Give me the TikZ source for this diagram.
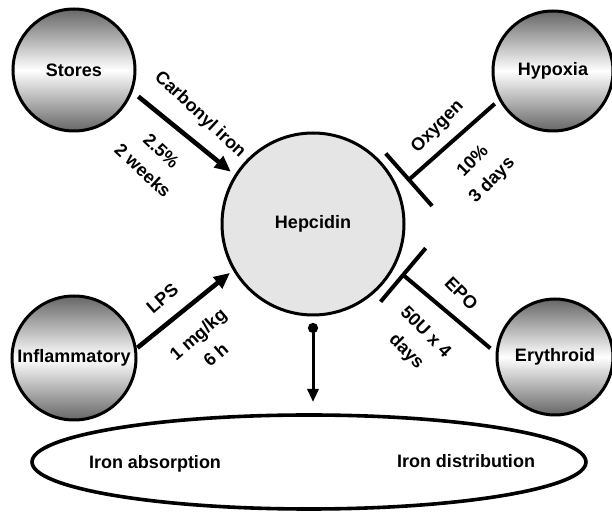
\documentclass[tikz,border=0pt]{standalone}
\usepackage{fontspec}
\setmainfont{Liberation Sans}
\usetikzlibrary{shapes.geometric, positioning, arrows.meta}

\begin{document}
\begin{tikzpicture}[x=0.5pt, y=-0.5pt,
    font=\fontsize{9}{13.5}\selectfont\bfseries,
    source/.style={circle, draw, line width=1.5pt, minimum size=#1, inner sep=0pt, outer sep=0pt,
        top color=black!60, bottom color=black!60, middle color=white},
    act/.style={-{Triangle[length=8pt, width=7pt]}, line width=2.3pt},
    inhib/.style={{Bar[width=35pt]}-, line width=2pt},
    lbl/.style={sloped, inner sep=1pt, align=center}]

    \useasboundingbox (0,0) rectangle (612,513);

    % Hepcidin in the middle
    \node[circle, draw, line width=1.5pt, fill=black!10, minimum size=91pt, inner sep=0pt, outer sep=0pt] (hep) at (313,224) {Hepcidin};

    % Regulators
    \node[source=61pt] (stores) at (74,70) {Stores};
    \node[source=60pt] (hypoxia) at (553,71) {Hypoxia};
    \node[source=62pt] (inflam) at (74,358) {Inflammatory};
    \node[source=58pt] (erythroid) at (555,357) {Erythroid};

    % Iron targets
    \node[ellipse, draw, line width=1.8pt, minimum width=277pt, minimum height=47pt, inner sep=0pt, outer sep=0pt] (iron) at (309,462) {};
    \node (absorp) at (155,464) {Iron absorption};
    \node (distrib) at (466,461) {Iron distribution};

    % Arrows into hepcidin
    \draw[act, shorten <=4.5pt, shorten >=3.2pt] (stores.-20.7) -- (hep.148.4)
        node[lbl, rotate=-4, midway, above=6pt] {Carbonyl iron}
        node[lbl, rotate=-4, pos=.46, below=8.5pt] {2.5\%\\2 weeks};
    \draw[act, shorten <=1.3pt, shorten >=2.7pt] (inflam.8) -- (hep.210.6)
        node[lbl, rotate=2, pos=.42, above=6pt] {LPS}
        node[lbl, rotate=2, pos=.455, below=8.3pt] {1 mg/kg\\6 h};

    % Inhibition of hepcidin
    \draw[inhib, shorten <=6.7pt, shorten >=3.5pt] (hep.22.9) -- (hypoxia.208.5)
        node[lbl, rotate=4, pos=.53, above=4pt] {Oxygen}
        node[lbl, rotate=4, pos=.545, below=8.5pt] {10\%\\3 days};
    \draw[inhib, shorten <=5.4pt, shorten >=4.4pt] (hep.-28.7) -- (erythroid.177.5)
        node[lbl, rotate=-5, pos=.505, above=6.5pt] {EPO}
        node[lbl, rotate=-5, pos=.5, below=9pt] {50U x 4\\days};

    % Hepcidin acts on iron
    \draw[{Circle[length=5pt]}-{Triangle[length=6.5pt, width=5.5pt]}, line width=1.5pt, shorten <=4pt, shorten >=6.5pt]
        (hep.south) -- (hep.south |- iron.north);
\end{tikzpicture}
\end{document}
